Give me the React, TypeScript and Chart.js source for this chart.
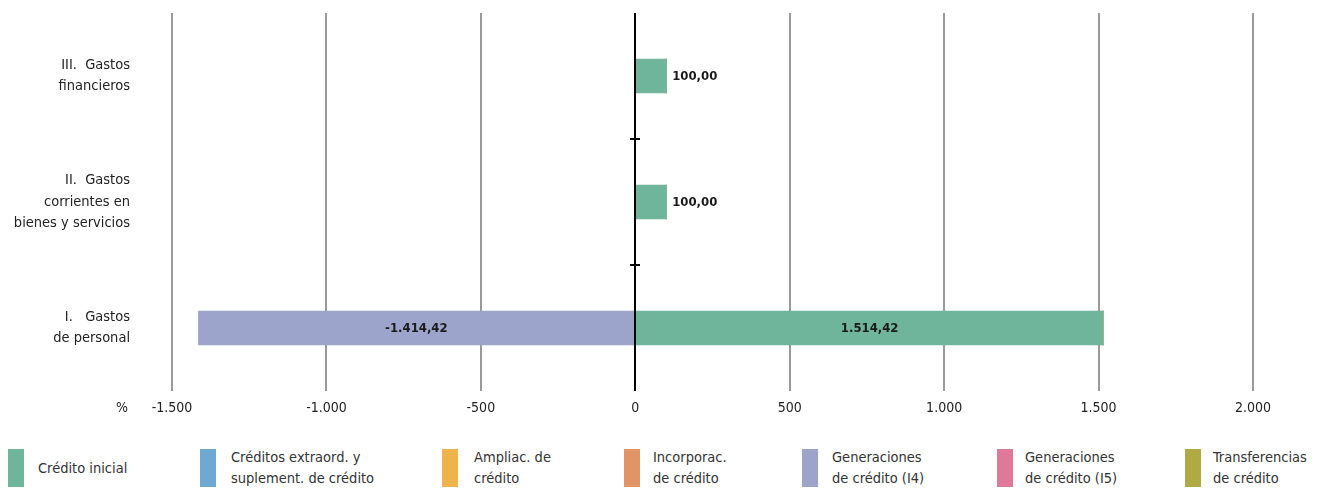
import React, { useEffect, useRef } from "react";
import { Chart, registerables } from "chart.js";

Chart.register(...registerables);

const FONT = "'DejaVu Sans Condensed', 'DejaVu Sans', sans-serif";

// ---- data ----
const categories: string[][] = [
  ["III.  Gastos", "financieros"],
  ["II.  Gastos", "corrientes en", "bienes y servicios"],
  ["I.   Gastos", "de personal"],
];

const seriesNames: string[] = [
  "Crédito inicial",
  "Créditos extraord. y\nsuplement. de crédito",
  "Ampliac. de\ncrédito",
  "Incorporac.\nde crédito",
  "Generaciones\nde crédito (I4)",
  "Generaciones\nde crédito (I5)",
  "Transferencias\nde crédito",
];

const seriesColors: string[] = [
  "#6fb59c",
  "#6fa8d0",
  "#efb34b",
  "#e19566",
  "#9ca4cb",
  "#e0789a",
  "#b0aa45",
];

const creditoInicial: number[] = [100.0, 100.0, 1514.42];
const creditosExtraord: number[] = [0, 0, 0];
const ampliac: number[] = [0, 0, 0];
const incorporac: number[] = [0, 0, 0];
const generacionesI4: number[] = [0, 0, -1414.42];
const generacionesI5: number[] = [0, 0, 0];
const transferencias: number[] = [0, 0, 0];

const seriesValues: number[][] = [
  creditoInicial,
  creditosExtraord,
  ampliac,
  incorporac,
  generacionesI4,
  generacionesI5,
  transferencias,
];

const axisMin = -1500;
const axisMax = 2000;
const axisStep = 500;

// legend placement (layout only)
const legendBoxX = [8, 200, 442, 624, 802, 997, 1185];
const legendTextX = [38, 231, 474, 653, 832, 1025, 1213];

function fmtThousands(v: number, decimals: number): string {
  const neg = v < 0;
  const abs = Math.abs(v);
  const fixed = abs.toFixed(decimals);
  const [intPart, decPart] = fixed.split(".");
  const withSep = intPart.replace(/\B(?=(\d{3})+(?!\d))/g, ".");
  return (neg ? "-" : "") + withSep + (decPart ? "," + decPart : "");
}

const overlayPlugin = {
  id: "overlay",
  afterDatasetsDraw(chart: any) {
    const { ctx, chartArea, scales } = chart;
    const xs = scales.x;
    const ys = scales.y;
    const x0 = Math.round(xs.getPixelForValue(0));
    ctx.save();
    // zero line
    ctx.strokeStyle = "#000";
    ctx.lineWidth = 2;
    ctx.beginPath();
    ctx.moveTo(x0, chartArea.top);
    ctx.lineTo(x0, chartArea.bottom);
    ctx.stroke();
    // category boundary ticks
    for (let i = 0; i < categories.length - 1; i++) {
      const y = Math.round(
        (ys.getPixelForValue(i) + ys.getPixelForValue(i + 1)) / 2
      );
      ctx.beginPath();
      ctx.moveTo(x0 - 5, y);
      ctx.lineTo(x0 + 5, y);
      ctx.stroke();
    }
    // value labels
    ctx.font = `bold 13px ${FONT}`;
    ctx.fillStyle = "#1a1a1a";
    ctx.textBaseline = "middle";
    chart.data.datasets.forEach((ds: any, di: number) => {
      const meta = chart.getDatasetMeta(di);
      meta.data.forEach((bar: any, i: number) => {
        const v = ds.data[i];
        if (!v) return;
        const text = fmtThousands(v, 2);
        const tw = ctx.measureText(text).width;
        const left = Math.min(bar.x, bar.base);
        const right = Math.max(bar.x, bar.base);
        if (right - left > tw + 12) {
          ctx.textAlign = "center";
          ctx.fillText(text, (left + right) / 2, bar.y + 1);
        } else if (v > 0) {
          ctx.textAlign = "left";
          ctx.fillText(text, right + 6, bar.y + 1);
        } else {
          ctx.textAlign = "right";
          ctx.fillText(text, left - 6, bar.y + 1);
        }
      });
    });
    // percent unit
    ctx.font = `14px ${FONT}`;
    ctx.fillStyle = "#222";
    ctx.textAlign = "center";
    ctx.fillText("%", 122, chartArea.bottom + 17);
    ctx.restore();
  },
};

export default function App() {
  const ref = useRef<HTMLCanvasElement | null>(null);

  useEffect(() => {
    document.body.style.margin = "0";
    if (!ref.current) return;
    Chart.defaults.font.family = FONT;
    const chart = new Chart(ref.current, {
      type: "bar",
      data: {
        labels: categories,
        datasets: seriesNames.map((name, i) => ({
          label: name,
          data: seriesValues[i],
          backgroundColor: seriesColors[i],
          borderWidth: 0,
          barThickness: 34,
        })),
      },
      options: {
        indexAxis: "y",
        responsive: false,
        animation: false,
        layout: { padding: { top: 13, right: 64, left: 0, bottom: 0 } },
        plugins: {
          legend: { display: false },
          tooltip: { enabled: false },
        },
        scales: {
          x: {
            stacked: true,
            min: axisMin,
            max: axisMax,
            grid: {
              color: "#9a9a9a",
              lineWidth: 2,
              drawTicks: false,
            },
            border: { display: false },
            ticks: {
              stepSize: axisStep,
              padding: 9,
              color: "#222",
              font: { size: 14, family: FONT },
              callback: (v: any) => fmtThousands(Number(v), 0),
              maxRotation: 0,
            },
            afterFit: (s: any) => {
              s.height = 49;
              s.paddingLeft = 0;
              s.paddingRight = 0;
            },
          },
          y: {
            stacked: true,
            grid: { display: false, drawTicks: false },
            border: { display: false },
            ticks: {
              padding: 42,
              color: "#222",
              font: { size: 14.5, family: FONT, lineHeight: 1.48 },
            },
            afterFit: (s: any) => {
              s.width = 172;
              s.paddingTop = 0;
              s.paddingBottom = 0;
            },
          },
        },
      } as any,
      plugins: [overlayPlugin],
    });
    return () => chart.destroy();
  }, []);

  return (
    <div style={{ position: "relative", width: 1317, height: 489, background: "#fff" }}>
      <canvas ref={ref} width={1317} height={440} style={{ display: "block" }} />
      {seriesNames.map((name, i) => (
        <React.Fragment key={name}>
          <div
            style={{
              position: "absolute",
              left: legendBoxX[i],
              top: 449,
              width: 16,
              height: 38,
              background: seriesColors[i],
            }}
          />
          <div
            style={{
              position: "absolute",
              left: legendTextX[i],
              top: 447,
              height: 42,
              display: "flex",
              alignItems: "center",
              fontFamily: FONT,
              fontSize: 14.5,
              lineHeight: "21px",
              color: "#333",
              whiteSpace: "pre",
            }}
          >
            {name}
          </div>
        </React.Fragment>
      ))}
    </div>
  );
}
